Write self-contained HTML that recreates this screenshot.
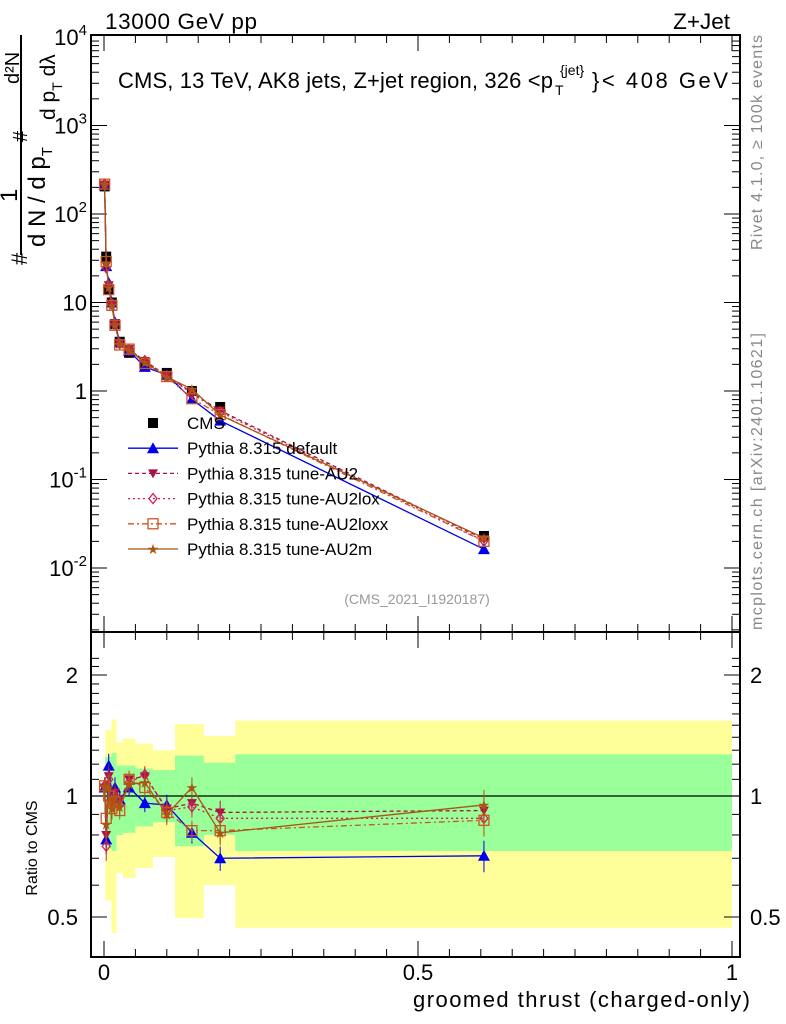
<!DOCTYPE html>
<html><head><meta charset="utf-8"><style>
body{margin:0;background:#fff;}
svg{display:block;font-family:"Liberation Sans","DejaVu Sans",sans-serif;}
</style></head><body>
<svg id="c" width="786" height="1024" viewBox="0 0 786 1024">
<text x="105" y="29" font-size="22.5" textLength="152">13000 GeV pp</text>
<text x="730" y="29" font-size="22.5" text-anchor="end">Z+Jet</text>
<text y="88" font-size="22"><tspan x="118" textLength="435">CMS, 13 TeV, AK8 jets, Z+jet region, 326 &lt;p</tspan><tspan x="555" font-size="14" dy="7">T</tspan><tspan x="560" font-size="14" dy="-20">{jet}</tspan><tspan x="592" dy="13" textLength="136">}&lt; 408 GeV</tspan></text>
<text transform="translate(762,250) rotate(-90)" font-size="16" textLength="215" fill="#888">Rivet 4.1.0, ≥ 100k events</text>
<text transform="translate(762,630) rotate(-90)" font-size="16" textLength="297" fill="#888">mcplots.cern.ch [arXiv:2401.10621]</text>
<text x="417" y="604" font-size="14" fill="#999" text-anchor="middle">(CMS_2021_I1920187)</text>
<g>
<text transform="translate(27,265) rotate(-90)" font-size="22">#</text>
<text transform="translate(17,202) rotate(-90)" font-size="24">1</text>
<line x1="21" y1="35" x2="21" y2="255" stroke="#000" stroke-width="2"/>
<text transform="translate(45,247) rotate(-90)" font-size="24">d N / d p<tspan font-size="15" dy="7">T</tspan></text>
<text transform="translate(27,142) rotate(-90)" font-size="20">#</text>
<text transform="translate(19,84) rotate(-90)" font-size="20">d²N</text>
<text transform="translate(55,120) rotate(-90)" font-size="21">d p<tspan font-size="14" dy="7">T</tspan><tspan dy="-7"> d</tspan>λ</text>
</g>
<text transform="translate(37,848) rotate(-90)" font-size="16" text-anchor="middle">Ratio to CMS</text>
<text x="750" y="1007" font-size="22" textLength="337" text-anchor="end">groomed thrust (charged-only)</text>
<g id="g"></g>
</svg>
<script>
// ---- data ----
const xCenters=[0.001,0.0035,0.0075,0.0125,0.0175,0.025,0.04,0.065,0.1,0.14,0.185,0.605];
const cmsValues=[205,33,14,10,5.7,3.6,2.7,1.95,1.6,1.0,0.66,0.023];
const ratioDefault=[1.05,0.78,1.19,1.0,1.05,0.98,1.05,0.96,0.95,0.81,0.70,0.71];
const ratioAU2=[1.05,0.8,1.12,0.95,1.02,0.97,1.1,1.12,0.93,0.96,0.91,0.92];
const ratioAU2lox=[1.06,0.75,1.1,0.96,1.0,0.95,1.08,1.13,0.92,0.94,0.88,0.88];
const ratioAU2loxx=[1.06,0.88,1.0,0.93,0.97,0.92,1.1,1.05,0.91,0.82,0.82,0.87];
const ratioAU2m=[1.06,0.85,1.05,0.93,0.99,0.94,1.07,1.08,0.9,1.05,0.81,0.95];
const mcErr=[0.05,0.08,0.07,0.06,0.06,0.05,0.05,0.05,0.06,0.06,0.07,0.09];
const bandEdges=[0.002,0.012,0.02,0.03,0.05,0.078,0.113,0.159,0.209,1.0];
const yellowHi=[1.46,1.55,1.36,1.39,1.35,1.30,1.51,1.41,1.54];
const yellowLo=[0.55,0.456,0.643,0.625,0.662,0.705,0.497,0.60,0.47];
const greenHi=[1.25,1.28,1.19,1.19,1.17,1.16,1.26,1.21,1.27];
const greenLo=[0.74,0.73,0.80,0.81,0.84,0.86,0.75,0.80,0.73];
const mainTicks=["10^4","10^3","10^2","10","1","10^-1","10^-2"];
const ratioTicks=[2,1,0.5];
const xTicks=[0,0.5,1];

const NS="http://www.w3.org/2000/svg";
const g=document.getElementById('g');
const L=91,R=740,T=35,MB=632,B=957;
const X=v=>104+v*628;
const YM=v=>37+(4-Math.log10(v))*88.5;
const YR=v=>796-Math.log10(v)*402;
function el(t,a,p){const e=document.createElementNS(NS,t);for(const k in a)e.setAttribute(k,a[k]);(p||g).appendChild(e);return e;}

for(let i=0;i<yellowHi.length;i++){
 const y=el('rect',{x:X(bandEdges[i]),y:YR(yellowHi[i]),width:X(bandEdges[i+1])-X(bandEdges[i]),height:YR(yellowLo[i])-YR(yellowHi[i]),fill:'#ffff99'});
 
 
}
for(let i=0;i<greenHi.length;i++){
 const r=el('rect',{x:X(bandEdges[i]),y:YR(greenHi[i]),width:X(bandEdges[i+1])-X(bandEdges[i]),height:YR(greenLo[i])-YR(greenHi[i]),fill:'#99ff99'});
 
 
}
el('line',{x1:L,x2:R,y1:YR(1),y2:YR(1),stroke:'#000','stroke-width':1.2});

el('rect',{x:L,y:T,width:R-L,height:MB-T,fill:'none',stroke:'#000','stroke-width':2});
el('rect',{x:L,y:MB,width:R-L,height:B-MB,fill:'none',stroke:'#000','stroke-width':2});

for(let d=-3;d<4;d++){for(let m=1;m<10;m++){const v=m*Math.pow(10,d);const y=YM(v);if(y<T||y>MB)continue;const len=m==1?16:8;
 el('line',{x1:L,x2:L+len,y1:y,y2:y,stroke:'#000'});el('line',{x1:R,x2:R-len,y1:y,y2:y,stroke:'#000'});}}
const tickVals=[1e4,1e3,1e2,10,1,0.1,0.01];
mainTicks.forEach((lab,i)=>{const y=YM(tickVals[i]);
 const t=el('text',{x:87,y:y+8,'font-size':22,'text-anchor':'end'});
 if(lab.includes('^')){const [b,e]=lab.split('^');t.textContent=b;const s=el('tspan',{dy:-10,'font-size':15},t);s.textContent=e;}else t.textContent=lab;
 
 
});
[0.5,0.6,0.7,0.8,0.9,1,1.1,1.2,1.3,1.4,1.5,1.6,1.7,1.8,1.9,2,2.1,2.2].forEach(v=>{const y=YR(v);if(y<MB||y>B)return;const len=(v==0.5||v==1||v==2)?16:8;
 el('line',{x1:L,x2:L+len,y1:y,y2:y,stroke:'#000'});el('line',{x1:R,x2:R-len,y1:y,y2:y,stroke:'#000'});});
ratioTicks.forEach(v=>{
 const a=el('text',{x:78,y:YR(v)+8,'font-size':22,'text-anchor':'end'});a.textContent=v;
 
 
 const b=el('text',{x:750,y:YR(v)+8,'font-size':22});b.textContent=v;
 
 
});
for(let i=0;i<=20;i++){const v=i*0.05;const x=X(v);if(x>R)continue;const len=i%10==0?16:8;
 [[MB,-1],[B,-1],[T,1],[MB,1]].forEach(([y,s])=>el('line',{x1:x,x2:x,y1:y,y2:y+s*len,stroke:'#000'}));}
xTicks.forEach(v=>{const t=el('text',{x:X(v),y:980,'font-size':22,'text-anchor':'middle'});t.textContent=v;
 
 });

function marker(type,x,y,col,p){
 if(type=='sq')return el('rect',{x:x-5,y:y-5,width:10,height:10,fill:col},p);
 if(type=='tri')return el('polygon',{points:`${x},${y-6} ${x-6},${y+5} ${x+6},${y+5}`,fill:col},p);
 if(type=='dtri')return el('polygon',{points:`${x},${y+5} ${x-5},${y-4} ${x+5},${y-4}`,fill:col},p);
 if(type=='dia')return el('polygon',{points:`${x},${y-5} ${x-4},${y} ${x},${y+5} ${x+4},${y}`,fill:'none',stroke:col,'stroke-width':1.3},p);
 if(type=='osq')return el('rect',{x:x-5,y:y-5,width:10,height:10,fill:'none',stroke:col,'stroke-width':1.3},p);
 if(type=='star')return el('text',{x:x,y:y+5,'font-size':14,fill:col,'text-anchor':'middle'},p);
}
const series=[
 {name:'default',r:ratioDefault,col:'#0000ee',m:'tri',dash:''},
 {name:'au2',r:ratioAU2,col:'#aa1144',m:'dtri',dash:'4,3'},
 {name:'au2lox',r:ratioAU2lox,col:'#cc2255',m:'dia',dash:'2,3'},
 {name:'au2loxx',r:ratioAU2loxx,col:'#cc5522',m:'osq',dash:'6,3,2,3'},
 {name:'au2m',r:ratioAU2m,col:'#aa5511',m:'star',dash:''}
];
cmsValues.forEach((v,i)=>{const m=marker('sq',X(xCenters[i]),YM(v),'#000');
 
 });
series.forEach(s=>{
 const mc=cmsValues.map((v,i)=>v*s.r[i]);
 const pm=el('polyline',{points:mc.map((v,i)=>X(xCenters[i])+','+YM(v)).join(' '),fill:'none',stroke:s.col,'stroke-width':1.3,'stroke-dasharray':s.dash});
 
 
 const pr=el('polyline',{points:s.r.map((v,i)=>X(xCenters[i])+','+YR(v)).join(' '),fill:'none',stroke:s.col,'stroke-width':1.3,'stroke-dasharray':s.dash});
 
 
 s.r.forEach((v,i)=>{const x=X(xCenters[i]);
  el('line',{x1:x,x2:x,y1:YR(v*(1+mcErr[i])),y2:YR(v*(1-mcErr[i])),stroke:s.col});
  const a=marker(s.m,x,YR(v),s.col);if(s.m=='star')a.textContent='★';
  
  
  const b=marker(s.m,x,YM(mc[i]),s.col);if(s.m=='star')b.textContent='★';
  
  
 });
});
const legNames=['CMS','Pythia 8.315 default','Pythia 8.315 tune-AU2','Pythia 8.315 tune-AU2lox','Pythia 8.315 tune-AU2loxx','Pythia 8.315 tune-AU2m'];
legNames.forEach((n,i)=>{const y=423+i*25.2;const lg=el('g',{});
 
 
 if(i==0){marker('sq',153,y,'#000',lg);}
 else{const s=series[i-1];el('line',{x1:128,x2:178,y1:y,y2:y,stroke:s.col,'stroke-width':1.3,'stroke-dasharray':s.dash},lg);const m=marker(s.m,153,y,s.col,lg);if(s.m=='star')m.textContent='★';}
 const t=el('text',{x:187,y:y+6,'font-size':17},lg);t.textContent=n;});
</script>
</body></html>
